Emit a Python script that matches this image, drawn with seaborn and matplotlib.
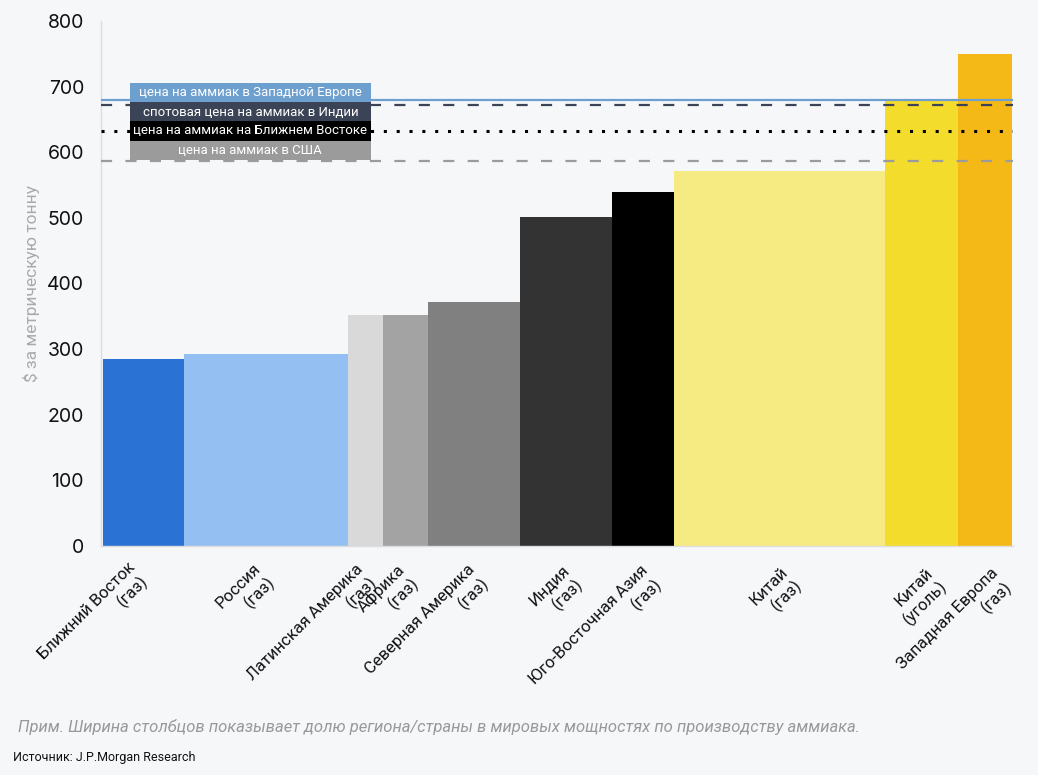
import numpy as np
import matplotlib
matplotlib.use("Agg")
import matplotlib.pyplot as plt
import matplotlib.transforms as mtransforms
import seaborn as sns
from matplotlib.patches import Rectangle

regions = ["Ближний Восток\n(газ)", "Россия\n(газ)", "Латинская Америка\n(газ)",
           "Африка\n(газ)", "Северная Америка\n(газ)", "Индия\n(газ)",
           "Юго-Восточная Азия\n(газ)", "Китай\n(газ)", "Китай\n(уголь)",
           "Западная Европа\n(газ)"]
capacity_share = [8.9, 18.1, 3.8, 5.0, 10.1, 10.1, 6.8, 23.1, 8.0, 6.0]
cost = [285, 292, 352, 352, 372, 502, 540, 571, 680, 750]
bar_colors = ["#2a72d4", "#94bff2", "#d9d9d9", "#a3a3a3", "#808080",
              "#333333", "#000000", "#f6ea82", "#f4dc2c", "#f4b817"]

price_labels = ["цена на аммиак в Западной Европе", "спотовая цена на аммиак в Индии",
                "цена на аммиак на Ближнем Востоке", "цена на аммиак в США"]
price_values = [680, 672, 632, 587]
price_colors = ["#6d9fcf", "#3b4456", "#000000", "#9b9b9b"]
price_styles = ["-", (0, (5, 6)), (0, (1, 3.2)), (0, (5, 6))]
price_widths = [1.6, 1.6, 2.2, 1.6]
box_colors = ["#6d9fcf", "#3b4456", "#000000", "#9b9b9b"]

bg = "#f6f7f9"
sns.set_theme(style="white")
plt.rcParams['font.family'] = ['Roboto', 'DejaVu Sans']

fig = plt.figure(figsize=(10.38, 7.75), dpi=100, facecolor=bg)
ax = fig.add_axes([0.097, 0.2955, 0.879, 0.6775], facecolor=bg)

left_edges = np.concatenate([[0], np.cumsum(capacity_share)[:-1]])
centers = left_edges + np.array(capacity_share) / 2
ax.bar(left_edges, cost, width=capacity_share, align="edge", color=bar_colors,
       linewidth=0, zorder=2)

for v, c, ls, lw in zip(price_values, price_colors, price_styles, price_widths):
    ax.axhline(v, color=c, linestyle=ls, linewidth=lw, zorder=3)

# legend boxes
bx0, bx1 = 0.032, 0.296
row_tops = [0.882, 0.845, 0.809, 0.772]
row_h = 0.037
for top, lab, c in zip(row_tops, price_labels, box_colors):
    ax.add_patch(Rectangle((bx0, top - row_h), bx1 - bx0, row_h, transform=ax.transAxes,
                           facecolor=c, edgecolor="none", zorder=5))
    ax.text((bx0 + bx1) / 2, top - row_h / 2, lab, transform=ax.transAxes,
            color="white", fontsize=9.5, ha="center", va="center", zorder=6)

ax.set_xlim(-0.2, 100)
ax.set_ylim(0, 800)
ax.set_yticks(range(0, 801, 100))
ax.set_xticks(centers)
ax.set_xticklabels(regions, rotation=45, ha="right", rotation_mode="anchor",
                   fontsize=12, color="#111111")
ax.tick_params(axis="x", length=0, pad=9)
# labels drift slightly to the right along the axis, as in the original
for c, t in zip(centers, ax.get_xticklabels()):
    f = (c - centers[0]) / (centers[-1] - centers[0])
    shift = mtransforms.ScaledTranslation(-0.16 + 0.22 * f, -0.01 - 0.06 * f, fig.dpi_scale_trans)
    t.set_transform(t.get_transform() + shift)
ax.tick_params(axis="y", length=4, color="#dddddd", labelsize=14, labelcolor="#111111", pad=8)
for t in ax.get_yticklabels():
    t.set_fontfamily(["Inter", "DejaVu Sans"])

ax.set_ylabel("$ за метрическую тонну", color="#aaaaaa", fontsize=12.5, labelpad=5)

for s in ["top", "right"]:
    ax.spines[s].set_visible(False)
for s in ["left", "bottom"]:
    ax.spines[s].set_color("#dddddd")
    ax.spines[s].set_linewidth(1)

fig.text(0.017, 0.062, "Прим. Ширина столбцов показывает долю региона/страны в мировых мощностях по производству аммиака.",
         fontsize=12, style="italic", color="#999999", ha="left", va="center")
fig.text(0.013, 0.023, "Источник: J.P.Morgan Research", fontsize=9, color="#111111",
         ha="left", va="center")

fig.savefig("out.png", dpi=100, facecolor=bg)
